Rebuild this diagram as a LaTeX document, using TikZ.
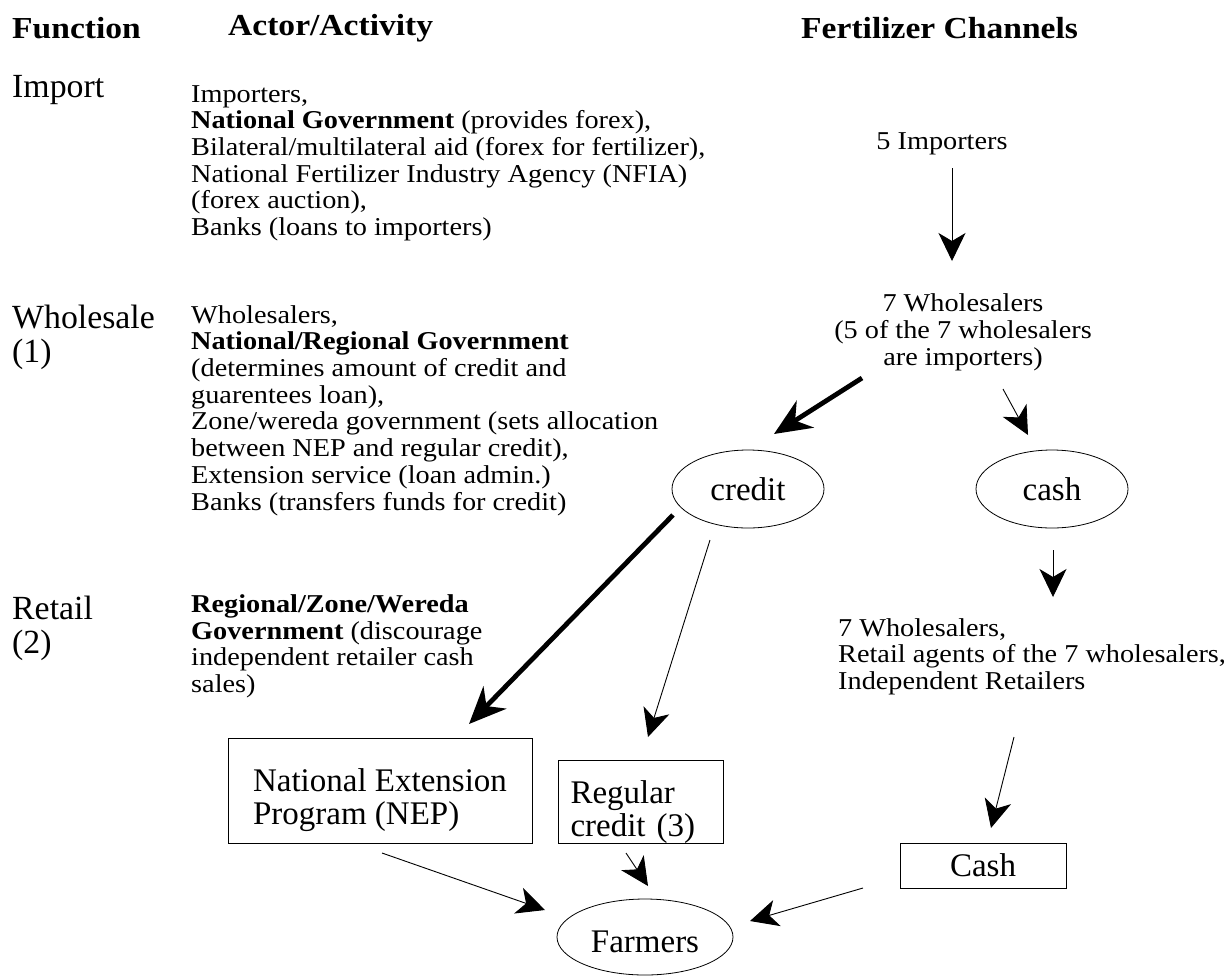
\documentclass[tikz,border=0pt]{standalone}
\usepackage{fontspec}
\setmainfont{Liberation Serif}
\newfontfamily\bodyfont{Liberation Serif}[FakeStretch=1.1]
\usetikzlibrary{arrows.meta,shapes.geometric}
\tikzset{
  body/.style={font=\bodyfont\fontsize{25.7}{26.7}\selectfont, inner sep=0pt, align=left, anchor=base west},
  head/.style={font=\bodyfont\bfseries\fontsize{30.5}{34}\selectfont, inner sep=0pt, anchor=base west},
  lab/.style={font=\fontsize{33.8}{34}\selectfont, inner sep=0pt, align=left, anchor=base west},
  big/.style={font=\fontsize{33}{33.5}\selectfont},
  box/.style={draw, line width=0.8pt, big, align=left, inner sep=0pt},
  oval/.style={draw, ellipse, line width=0.8pt, big, inner sep=0pt},
  thinarrow/.style={line width=0.9pt, -{Stealth[length=28pt,width=27pt,inset=8pt]}},
  thickarrow/.style={line width=4.8pt, -{Stealth[length=37pt,width=32pt,inset=12pt]}},
}
\newcommand{\topgap}{\rule{0pt}{42.5pt}}
\begin{document}
\begin{tikzpicture}[x=1pt,y=-1pt]
\fill[white] (0,0) rectangle (1231,975);
\useasboundingbox (0,0) rectangle (1231,975);

% headers
\node[head] (hfun) at (12,38.5) {Function};
\node[head] (hact) at (228,35.5) {Actor/Activity};
\node[head] (hfer) at (801,38.5) {Fertilizer Channels};

% function labels (multi-line nodes: base = last line)
\node[lab] (limp) at (12,97) {Import};
\node[lab] (lwho) at (12,362) {Wholesale\\(1)};
\node[lab] (lret) at (12,653) {Retail\\(2)};

% actor / activity
\node[body] (aimp) at (191,235.5) {Importers,\\\textbf{National Government} (provides forex),\\Bilateral/multilateral aid (forex for fertilizer),\\National Fertilizer Industry Agency (NFIA)\\(forex auction),\\Banks (loans to importers)};
\node[body] (awho) at (191,510) {Wholesalers,\\\textbf{National/Regional Government}\\(determines amount of credit and\\guarentees loan),\\Zone/wereda government (sets allocation\\between NEP and regular credit),\\Extension service (loan admin.)\\Banks (transfers funds for credit)};
\node[body] (aret) at (191,692.5) {\textbf{Regional/Zone/Wereda}\\\textbf{Government} (discourage\\independent retailer cash\\sales)};

% channels
\node[body, anchor=base] (imp) at (942,149) {5 Importers};
\node[body, anchor=base, align=center] (whole) at (963,365) {7 Wholesalers\\(5 of the 7 wholesalers\\are importers)};
\node[oval, minimum width=152pt, minimum height=78pt] (credit) at (748,489) {credit};
\node[oval, minimum width=152pt, minimum height=78pt] (cash) at (1052,489) {cash};
\node[body] (ret) at (838,689.5) {7 Wholesalers,\\Retail agents of the 7 wholesalers,\\Independent Retailers};
\node[box, minimum width=304pt, minimum height=105pt] (nep) at (380,790.5) {\topgap National Extension\\Program (NEP)};
\node[box, text width=140pt, inner xsep=12.5pt, minimum height=82pt] (reg) at (640.5,802) {\topgap Regular\\credit (3)};
\node[box, minimum width=166pt, minimum height=45pt] (cashbox) at (983,865.5) {Cash};
\node[oval, minimum width=176pt, minimum height=76pt, text height=32pt] (farm) at (645,937) {Farmers};

% connector end points
\coordinate (a1s) at (952,168);  \coordinate (a1e) at (952,261);
\coordinate (a2s) at (862,378);  \coordinate (a2e) at (774,434);
\coordinate (a3s) at (1003,389); \coordinate (a3e) at (1028,435);
\coordinate (a4s) at (673,515);  \coordinate (a4e) at (469,724);
\coordinate (a5s) at (710,540);  \coordinate (a5e) at (648,737);
\coordinate (a6s) at (1053,550); \coordinate (a6e) at (1053,597);
\coordinate (a7s) at (1014,737); \coordinate (a7e) at (991,828);
\coordinate (a8s) at (382,853);  \coordinate (a8e) at (545,910);
\coordinate (a9s) at (626,853);  \coordinate (a9e) at (648,886);
\coordinate (a10s) at (863,888); \coordinate (a10e) at (750,921);

\draw[thinarrow]  (a1s) -- (a1e);
\draw[thickarrow] (a2s) -- (a2e);
\draw[thinarrow]  (a3s) -- (a3e);
\draw[thickarrow] (a4s) -- (a4e);
\draw[thinarrow]  (a5s) -- (a5e);
\draw[thinarrow]  (a6s) -- (a6e);
\draw[thinarrow]  (a7s) -- (a7e);
\draw[thinarrow]  (a8s) -- (a8e);
\draw[thinarrow]  (a9s) -- (a9e);
\draw[thinarrow]  (a10s) -- (a10e);
\end{tikzpicture}
\end{document}
